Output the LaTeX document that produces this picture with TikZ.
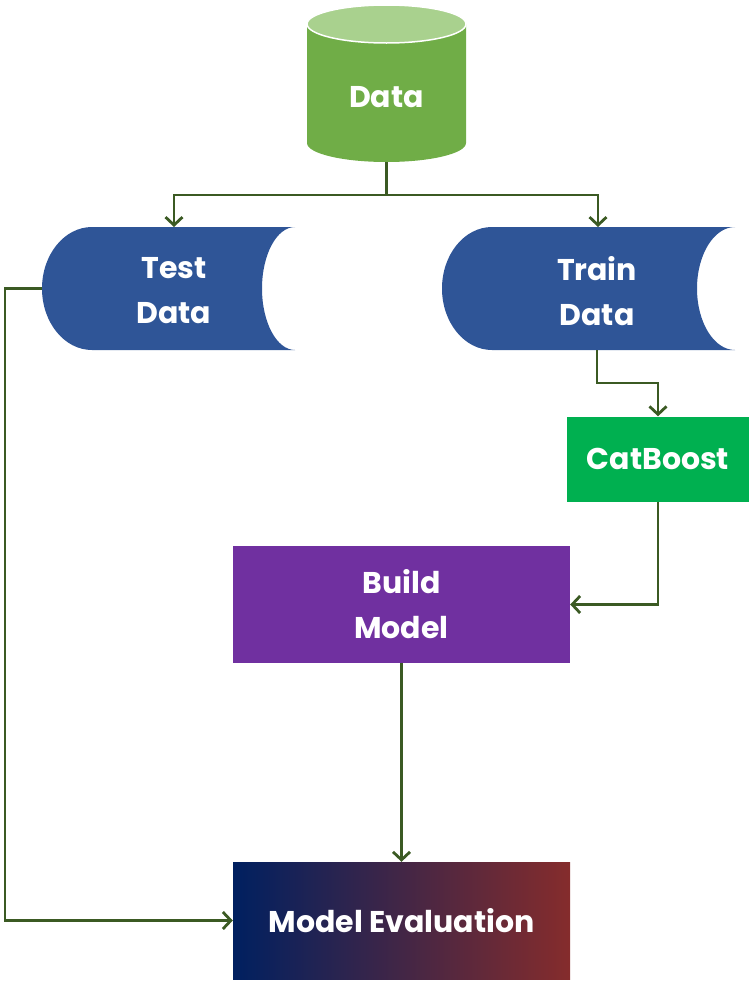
\documentclass[tikz,border=0pt]{standalone}
\usepackage{fontspec}
\setmainfont{Poppins}
\usetikzlibrary{arrows.meta}
\definecolor{lgreen}{HTML}{70AD47}
\definecolor{ltop}{HTML}{A9D18E}
\definecolor{dblue}{HTML}{2F5597}
\definecolor{cgreen}{HTML}{00B050}
\definecolor{purp}{HTML}{7030A0}
\definecolor{lnk}{HTML}{3B5A23}
\definecolor{gl}{HTML}{002060}
\definecolor{gr}{HTML}{852C2C}
\begin{document}
\begin{tikzpicture}[x=1pt,y=-1pt,
  lbl/.style={text=white,font=\fontsize{30}{45}\selectfont\bfseries,align=center,inner sep=0pt},
  link/.style={draw=lnk,line width=2.8pt},
  tip/.style={-{Straight Barb[length=8pt,width=17pt,line width=2.8pt]}}]
\useasboundingbox (0,0) rectangle (751,983);
% cylinder
\fill[lgreen] (307,24) -- (307,143) arc[start angle=180,end angle=0,x radius=79.5,y radius=19] -- (466,24) -- cycle;
\fill[ltop,draw=white,line width=1.5pt] (386.5,24) ellipse[x radius=79.5,y radius=19];
\node[minimum width=159pt,minimum height=158pt,inner sep=0pt] (data) at (386.5,83) {};
\node[lbl] (datatxt) at (386.5,97) {Data};
% test data
\fill[dblue] (295,227) arc[start angle=270,end angle=90,x radius=33,y radius=61.5] -- (92,350) arc[start angle=90,end angle=270,x radius=50,y radius=61.5] -- cycle;
\node[minimum width=253pt,minimum height=123pt,inner sep=0pt] (test) at (168.5,288.5) {};
\node[lbl] (testtxt) at (174,291) {Test\\Data};
% train data
\fill[dblue] (735,227) arc[start angle=270,end angle=90,x radius=38,y radius=61.5] -- (492,350) arc[start angle=90,end angle=270,x radius=50,y radius=61.5] -- cycle;
\node[minimum width=293pt,minimum height=123pt,inner sep=0pt] (train) at (588.5,288.5) {};
\node[lbl] (traintxt) at (597,291) {Train\\Data};
% catboost
\node[lbl,fill=cgreen,minimum width=182pt,minimum height=85pt] (cat) at (658,459) {CatBoost};
% build model
\node[lbl,fill=purp,minimum width=337pt,minimum height=117pt] (build) at (401.5,604.5) {Build\\Model};
% model evaluation
\node[lbl,left color=gl,right color=gr,middle color=gl!50!gr,minimum width=337pt,minimum height=117pt] (eval) at (401.5,920.5) {Model Evaluation};
% connectors
\coordinate (split) at (386.5,195);
\draw[link] (data.south) -- (split);
\draw[link,tip] (split) -| (174,227);
\draw[link,tip] (split) -| (598,227);
\coordinate (tl) at (5,288.5);
\draw[link,tip] (test.west) -- (tl) |- (eval.west);
\draw[link,tip] (597,350) -- (597,383) -| (cat.north);
\draw[link,tip] (cat.south) |- (build.east);
\draw[link,tip] (build.south) -- (eval.north);
\end{tikzpicture}
\end{document}
